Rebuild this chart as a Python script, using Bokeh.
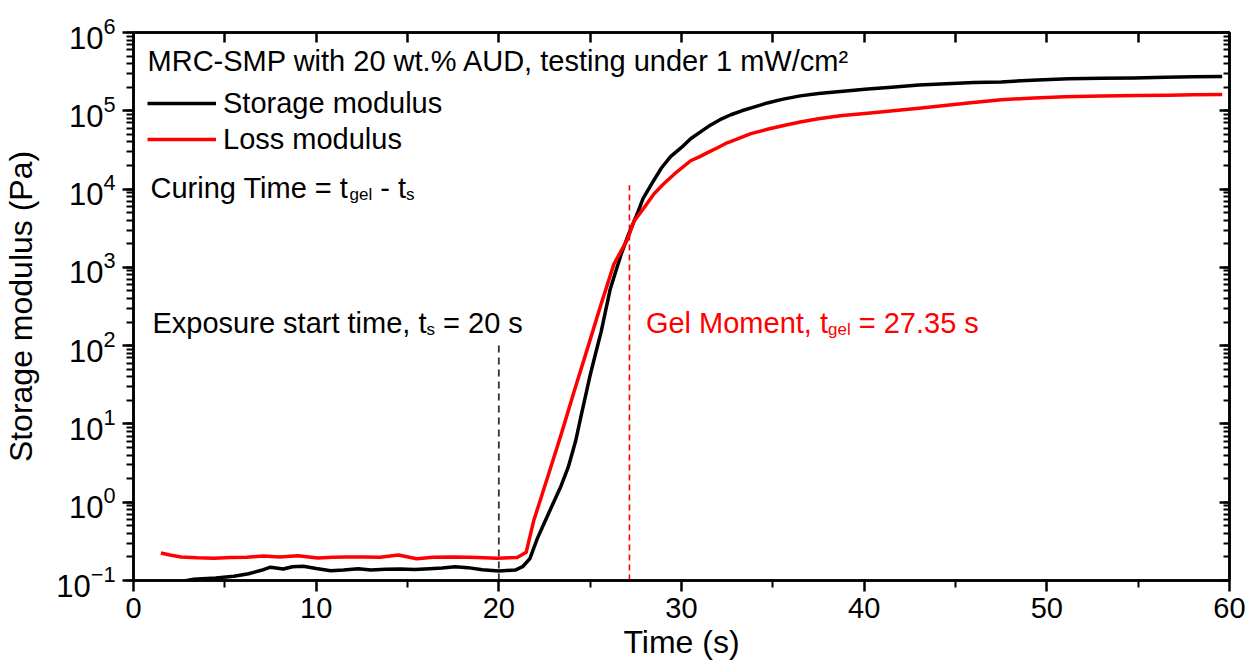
import numpy as np
from bokeh.plotting import figure
from bokeh.models import (LinearAxis, LogAxis, FixedTicker, LogTicker, Legend,
                          LegendItem, CustomJSTickFormatter)
from bokeh.core.properties import value
from bokeh.embed import file_html
from bokeh.resources import INLINE

# ---------------- data ----------------
time_storage = [2.3, 2.7, 3.3, 4.5, 5.5, 6.3, 7.0, 7.5, 8.2, 8.7,
                9.3, 10.0, 10.8, 11.5, 12.3, 13.0, 13.8, 14.6, 15.4, 16.2,
                16.9, 17.6, 18.3, 19.1, 20.0, 20.9, 21.3, 21.7, 22.1, 22.5,
                23.0, 23.4, 23.8, 24.2, 24.5, 25.0, 25.3, 25.6, 26.1, 26.7,
                27.1, 27.6, 27.9, 28.4, 28.9, 29.4, 30.0, 30.5, 31.1, 31.6,
                32.2, 32.7, 33.3, 34.0, 34.7, 35.5, 36.5, 37.5, 38.4, 39.3,
                40.2, 41.5, 43.0, 44.5, 46.0, 47.5, 49.5, 51.2, 53.0, 54.8,
                56.5, 58.0, 59.6]
storage_modulus = [0.088, 0.098, 0.104, 0.108, 0.113, 0.122, 0.135, 0.148, 0.140, 0.150,
                   0.152, 0.142, 0.133, 0.136, 0.141, 0.136, 0.139, 0.140, 0.138, 0.141,
                   0.144, 0.150, 0.146, 0.137, 0.132, 0.136, 0.150, 0.19, 0.34, 0.55,
                   1.0, 1.6, 2.8, 6.0, 12.6, 42, 80, 150, 530, 1480,
                   2630, 5000, 7600, 12000, 18600, 26000, 34000, 44000, 55000, 66000,
                   79000, 89000, 100000, 112000, 126000, 140000, 155000, 166000, 174000, 182000,
                   190000, 200000, 214000, 221000, 229000, 234000, 248000, 257000, 260000, 263000,
                   269000, 272000, 275000]

time_loss = [1.5, 2.0, 2.6, 3.5, 4.4, 5.3, 6.2, 7.1, 8.0, 9.0,
             9.6, 10.1, 10.9, 11.7, 12.6, 13.5, 14.5, 15.5, 16.4, 17.4,
             18.4, 19.2, 19.9, 21.0, 21.5, 21.9, 22.7, 23.4, 24.1, 24.9,
             25.6, 26.3, 27.05, 27.4, 28.0, 28.5, 29.0, 29.6, 30.5, 31.0,
             31.4, 32.0, 32.5, 33.0, 33.8, 34.7, 35.6, 36.5, 37.5, 38.8,
             40.2, 42.0, 43.0, 45.7, 47.5, 49.3, 51.0, 53.0, 55.0, 56.7,
             58.0, 59.6]
loss_modulus = [0.224, 0.212, 0.200, 0.195, 0.193, 0.196, 0.198, 0.205, 0.200, 0.207,
                0.200, 0.194, 0.198, 0.200, 0.199, 0.198, 0.212, 0.190, 0.198, 0.200,
                0.198, 0.195, 0.193, 0.196, 0.23, 0.57, 2.2, 7.2, 25, 100,
                340, 1100, 2300, 3900, 6000, 8700, 11500, 15500, 23000, 26000,
                29000, 34000, 39000, 43000, 51000, 58000, 65000, 72000, 79000, 87000,
                93000, 102000, 108000, 126000, 138000, 146000, 151000, 155000, 157000, 158000,
                160000, 162000]

x_ticks = [0, 10, 20, 30, 40, 50, 60]
x_minor_ticks = [5, 15, 25, 35, 45, 55]
exposure_start = 20          # t_s (s)
gel_time = 27.35             # t_gel (s) as written on the chart
gel_line_x = 27.15           # where the dashed gel line is drawn
exposure_line_top = 107      # Pa
gel_line_top = 11200         # Pa

series_labels = ["Storage modulus", "Loss modulus"]

# ---------------- styling ----------------
FONT = "Liberation Sans"
BLACK = "#000000"
RED = "#ff0000"

ARIAL = {" ": 278, "!": 278, "%": 889, "(": 333, ")": 333, ",": 278, "-": 333,
         ".": 278, "/": 278, "=": 584, "A": 667, "C": 722, "D": 722, "E": 667,
         "G": 778, "M": 833, "P": 667, "R": 722, "S": 667, "T": 611, "U": 722,
         "W": 944, "a": 556, "c": 500, "d": 556, "e": 556, "g": 556, "h": 556,
         "i": 222, "l": 222, "m": 833, "n": 556, "o": 556, "p": 556, "r": 333,
         "s": 500, "t": 278, "u": 556, "w": 722, "x": 500, "\u00b2": 333}


def tw(s, size):
    return sum(ARIAL.get(c, 556) for c in s) / 1000.0 * size


p = figure(width=1250, height=665, y_axis_type="log",
           x_range=(0, 60), y_range=(0.1, 1e6),
           output_backend="svg", toolbar_location=None,
           min_border_left=133, min_border_right=21,
           min_border_top=32, min_border_bottom=85,
           background_fill_color="white", border_fill_color="white")

p.xgrid.grid_line_color = None
p.ygrid.grid_line_color = None
p.outline_line_color = BLACK
p.outline_line_width = 2.5

# bottom axis
xa = p.xaxis[0]
xa.ticker = FixedTicker(ticks=x_ticks, minor_ticks=x_minor_ticks)
xa.axis_label = "Time (s)"
# left axis
ya = p.yaxis[0]
ya.ticker = LogTicker(num_minor_ticks=10)
ya.axis_label = "Storage modulus (Pa)"

for ax in (xa, ya):
    ax.axis_line_width = 2.5
    ax.major_tick_line_width = 2.5
    ax.minor_tick_line_width = 2
    ax.major_tick_out = 11
    ax.major_tick_in = 0
    ax.minor_tick_out = 7
    ax.minor_tick_in = 0
    ax.major_label_text_font = FONT
    ax.major_label_text_color = BLACK
    ax.axis_label_text_font = FONT
    ax.axis_label_text_font_size = "32px"
    ax.axis_label_text_font_style = "normal"
    ax.axis_label_text_color = BLACK
xa.major_label_text_font_size = "29px"
ya.major_label_text_font_size = "31px"
xa.major_label_standoff = 6
xa.axis_label_standoff = 3
ya.major_label_standoff = 7
ya.axis_label_standoff = 14

# top and right mirror axes with inward ticks, no labels
top = LinearAxis(ticker=FixedTicker(ticks=sorted(x_ticks + x_minor_ticks)),
                 formatter=CustomJSTickFormatter(code="return ''"),
                 major_tick_in=10, major_tick_out=0, minor_tick_in=0, minor_tick_out=0,
                 axis_line_width=2.5, major_tick_line_width=2.5,
                 major_label_standoff=0, major_label_text_font_size="10px")
right = LogAxis(ticker=LogTicker(num_minor_ticks=10),
                formatter=CustomJSTickFormatter(code="return ''"),
                major_tick_in=10, major_tick_out=0, minor_tick_in=6, minor_tick_out=0,
                axis_line_width=2.5, major_tick_line_width=2.5, minor_tick_line_width=2,
                major_label_standoff=0, major_label_text_font_size="10px")
p.add_layout(top, "above")
p.add_layout(right, "right")

# dashed marker lines
p.line(x=[exposure_start, exposure_start], y=[0.1, exposure_line_top],
       line_color="#333333", line_width=1.8, line_dash="7 5")
p.line(x=[gel_line_x, gel_line_x], y=[0.1, gel_line_top],
       line_color=RED, line_width=1.6, line_dash="6 4")

# curves
r_storage = p.line(time_storage, storage_modulus, line_color=BLACK, line_width=3.5,
                   line_join="round")
r_loss = p.line(time_loss, loss_modulus, line_color=RED, line_width=3.5,
                line_join="round")

legend = Legend(items=[LegendItem(label=series_labels[0], renderers=[r_storage]),
                       LegendItem(label=series_labels[1], renderers=[r_loss])],
                location=(14, 423), glyph_width=69, glyph_height=36,
                label_height=36, label_standoff=7, spacing=0, padding=0, margin=0,
                border_line_color=None, background_fill_alpha=0,
                label_text_font=FONT, label_text_font_size="29px",
                label_text_color=BLACK)
p.add_layout(legend)


def rich_text(x, y, parts, color):
    off = 0.0
    for txt, size, dy in parts:
        lead = len(txt) - len(txt.lstrip(" "))
        shown = txt.strip(" ")
        p.text(x=[x], y=[y], text=[shown], x_offset=off + tw(" " * lead, size),
               y_offset=dy, text_font=value(FONT), text_font_size=f"{size}px",
               text_color=color, text_baseline="alphabetic", text_align="left")
        off += tw(txt, size)


MAIN, SUB, DROP = 29, 17, 7
rich_text(0.77, 10 ** 5.63,
          [("MRC-SMP with 20 wt.% AUD, testing under 1 mW/cm\u00b2", MAIN, 0)], BLACK)
rich_text(0.93, 10 ** 4.02,
          [("Curing Time = t", MAIN, 0), ("gel", SUB, DROP), (" - t", MAIN, 0),
           ("s", SUB, DROP)], BLACK)
rich_text(1.04, 10 ** 2.29,
          [("Exposure start time, t", MAIN, 0), ("s", SUB, DROP),
           (f" = {exposure_start} s", MAIN, 0)], BLACK)
rich_text(28.05, 10 ** 2.29,
          [("Gel Moment, t", MAIN, 0), ("gel", SUB, DROP),
           (f" = {gel_time} s", MAIN, 0)], RED)

open("out.html", "w").write(file_html(p, INLINE))
